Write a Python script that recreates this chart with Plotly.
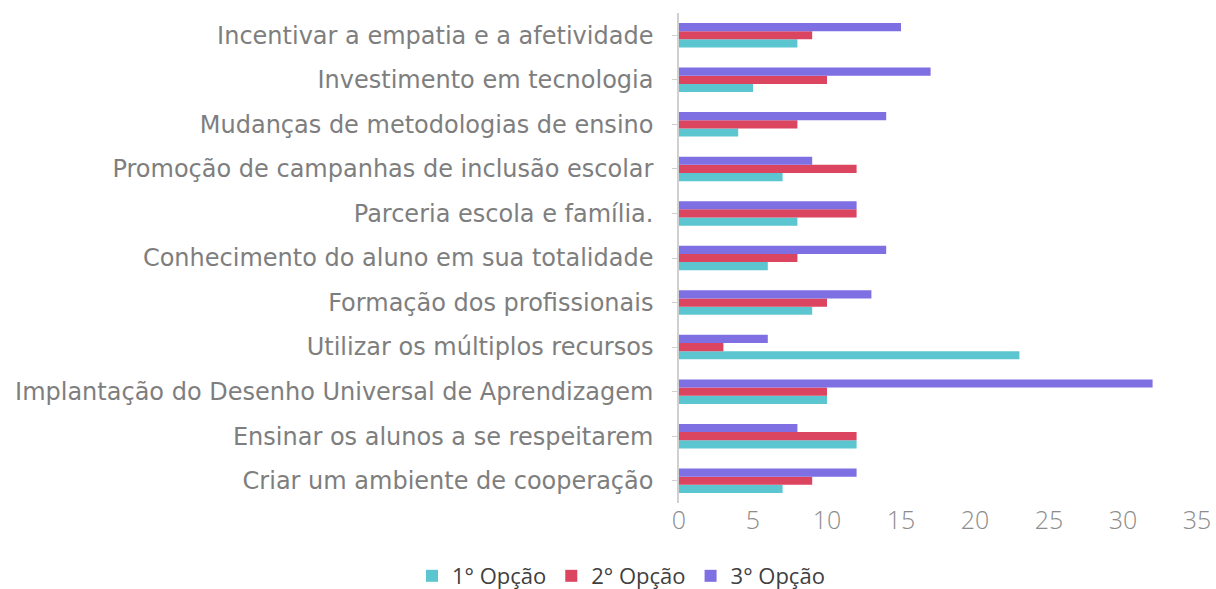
import plotly.graph_objects as go

categories = [
    "Incentivar a empatia e a afetividade",
    "Investimento em tecnologia",
    "Mudanças de metodologias de ensino",
    "Promoção de campanhas de inclusão escolar",
    "Parceria escola e família.",
    "Conhecimento do aluno em sua totalidade",
    "Formação dos profissionais",
    "Utilizar os múltiplos recursos",
    "Implantação do Desenho Universal de Aprendizagem",
    "Ensinar os alunos a se respeitarem",
    "Criar um ambiente de cooperação",
]
opcao1 = [8, 5, 4, 7, 8, 6, 9, 23, 10, 12, 7]
opcao2 = [9, 10, 8, 12, 12, 8, 10, 3, 10, 12, 9]
opcao3 = [15, 17, 14, 9, 12, 14, 13, 6, 32, 8, 12]
series_names = ["1° Opção", "2° Opção", "3° Opção"]
colors = ["#5CC6D0", "#DC4560", "#7E6FE2"]

fig = go.Figure()
for name, vals, col in zip(series_names, [opcao1, opcao2, opcao3], colors):
    fig.add_trace(go.Bar(y=categories, x=vals, name=name, orientation="h",
                         marker=dict(color=col, line=dict(width=0))))

fig.update_layout(
    width=1216, height=589,
    barmode="group", bargap=0.45, bargroupgap=0,
    plot_bgcolor="white", paper_bgcolor="white",
    margin=dict(l=679, r=19, t=13, b=86, autoexpand=False),
    font=dict(family="'DejaVu Sans', 'Open Sans', sans-serif", color="#7E7E7E"),
    legend=dict(orientation="h", x=-0.112, xanchor="center", y=-0.149, yanchor="middle",
                traceorder="normal",
                font=dict(family="'Open Sans', sans-serif", size=22, color="#404040"),
                itemwidth=30),
    xaxis=dict(range=[0, 35], dtick=5, showgrid=False, zeroline=False,
               showline=False, automargin=False,
               tickfont=dict(family="'Open Sans', sans-serif", size=25,
                             color="#8C8C8C", weight=300),
               ticks=""),
    yaxis=dict(categoryorder="array", categoryarray=categories[::-1],
               showline=True, linecolor="#D0D0D0", linewidth=1.5,
               automargin=False,
               ticks="outside", ticklen=5, tickcolor="#D0D0D0",
               ticklabelstandoff=14,
               tickfont=dict(size=24, color="#7E7E7E"), showgrid=False),
)

fig.write_html(
    "out.html",
    config={"displayModeBar": False},
    post_script="document.body.style.margin='0';document.body.style.overflow='hidden';",
)
